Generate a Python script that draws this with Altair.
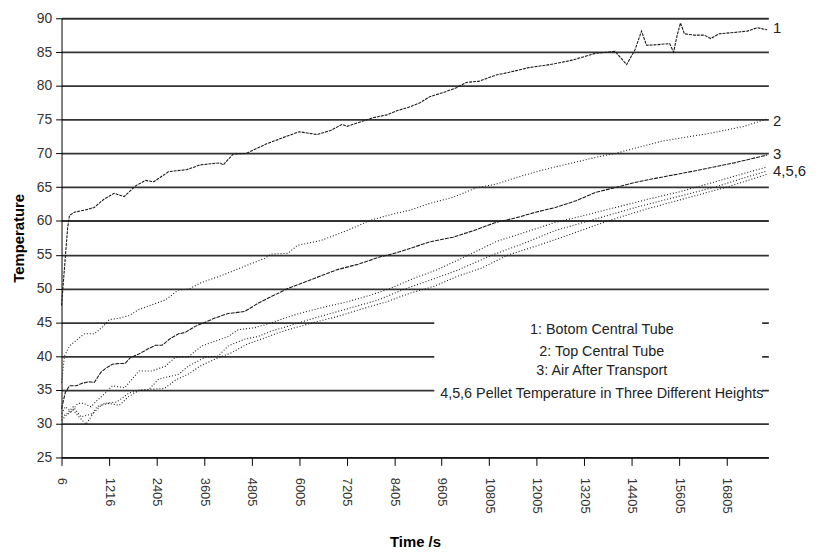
import altair as alt
import pandas as pd

# ---------------- data ----------------
t1 = [6, 40, 80, 120, 160, 206, 332, 582, 833, 1083, 1334, 1584, 1877, 2128, 2336, 2712, 3170, 3505,
      4006, 4089, 4340, 4673, 5174, 5675, 6010, 6344, 6469, 6802, 7095, 7221, 7471, 7888, 8222, 8474,
      8807, 9057, 9308, 9642, 9976, 10226, 10560, 10978, 11312, 11813, 12231, 12481, 12900, 13484,
      13985, 14277, 14486, 14653, 14779, 15070, 15363, 15463, 15554, 15637, 15737, 15988, 16238,
      16405, 16614, 16990, 17324, 17574, 17824]
T1 = [47.5, 50, 53, 56, 59, 60.8, 61.3, 61.6, 62.0, 63.25, 64.1, 63.6, 65.2, 66.0, 65.8, 67.3, 67.6, 68.3,
      68.6, 68.3, 69.9, 70.0, 71.4, 72.5, 73.2, 72.9, 72.8, 73.4, 74.3, 74.0, 74.5, 75.3, 75.7, 76.3,
      76.9, 77.5, 78.4, 79.0, 79.7, 80.5, 80.7, 81.6, 82.0, 82.7, 83.05, 83.3, 83.8, 84.8,
      85.1, 83.15, 85.3, 88.1, 86.0, 86.1, 86.25, 85.0, 87.5, 89.3, 87.7, 87.5, 87.5,
      87.0, 87.7, 87.9, 88.1, 88.6, 88.3]

t2 = [6, 80, 206, 457, 582, 833, 1040, 1208, 1459, 1709, 1960, 2293, 2627, 2962, 3212, 3546, 3964, 4297,
      4715, 5133, 5300, 5718, 5968, 6553, 7221, 7805, 8390, 8807, 9308, 9893, 10477, 10978, 11479,
      12063, 12481, 13484, 14000, 15153, 16405, 17240, 17824]
T2 = [36.1, 40.0, 41.5, 42.7, 43.3, 43.3, 44.3, 45.4, 45.6, 46.0, 46.9, 47.6, 48.3, 49.8, 49.9, 50.9, 51.75, 52.5,
      53.5, 54.45, 55.1, 55.2, 56.4, 57.1, 58.6, 60.1, 61.05, 61.6, 62.6, 63.5, 64.9, 65.45, 66.4,
      67.4, 68.0, 69.4, 70.0, 71.8, 73.0, 74.0, 75.1]

t3 = [6, 100, 206, 374, 540, 707, 833, 1000, 1125, 1291, 1459, 1609, 1752, 1960, 2168, 2378, 2544, 2754,
      2962, 3130, 3380, 3630, 3880, 4214, 4632, 4966, 5300, 5718, 6300, 6971, 7500, 8056, 8474, 9308,
      9893, 10477, 10978, 11479, 11980, 12481, 13000, 13484, 14486, 15000, 15988, 16990, 17824]
T3 = [32.2, 34.6, 35.6, 35.6, 36.0, 36.2, 36.1, 37.6, 38.2, 38.8, 38.9, 38.9, 39.8, 40.3, 41.0, 41.6, 41.6, 42.6,
      43.3, 43.5, 44.4, 45.0, 45.65, 46.3, 46.6, 47.8, 48.8, 50.0, 51.3, 52.8, 53.6, 54.7, 55.3, 56.9,
      57.6, 58.7, 59.8, 60.45, 61.3, 62.0, 63.0, 64.2, 65.7, 66.3, 67.4, 68.6, 69.75]

t4 = [6, 100, 250, 420, 560, 750, 916, 1125, 1290, 1600, 1960, 2290, 2627, 2878, 3212, 3546, 3880, 4214,
      4465, 4883, 5300, 5634, 6000, 6600, 7200, 7800, 8300, 8900, 9500, 10300, 11000, 11700, 12481,
      13200, 14000, 14800, 15600, 16400, 17100, 17824]
T4 = [31.5, 32.5, 31.8, 33.0, 33.0, 32.5, 33.5, 34.6, 35.6, 35.3, 37.8, 37.8, 38.5, 39.8, 39.9, 41.5, 42.2, 42.9,
      43.9, 44.2, 44.9, 45.6, 46.3, 47.2, 48.0, 49.0, 50.0, 51.5, 52.8, 55.0, 57.0, 58.3, 59.8,
      60.8, 62.0, 63.2, 64.3, 65.6, 66.8, 68.0]

t5 = [6, 150, 300, 500, 800, 1000, 1200, 1459, 1700, 1960, 2200, 2461, 2962, 3200, 3630, 3964, 4214, 4632,
      4966, 5300, 5718, 6200, 6800, 7400, 8000, 8700, 9300, 10000, 10900, 11600, 12481, 13500, 14500,
      15500, 16500, 17200, 17824]
T5 = [31.0, 31.5, 32.5, 31.0, 31.5, 32.7, 33.0, 32.7, 34.0, 34.9, 35.0, 36.6, 37.3, 38.5, 39.8, 40.0, 41.5, 42.5,
      42.9, 43.7, 44.4, 45.3, 46.3, 47.3, 48.3, 50.0, 51.2, 52.7, 55.0, 56.5, 58.6, 60.3, 62.0,
      63.5, 65.0, 66.3, 67.4]

t6 = [6, 120, 300, 450, 625, 750, 900, 1100, 1400, 1700, 2000, 2300, 2600, 2900, 3200, 3500, 3900, 4300,
      4700, 5100, 5500, 5900, 6400, 7000, 7600, 8200, 8800, 9400, 10000, 10600, 11300, 12000, 12700,
      13800, 14800, 15800, 16800, 17824]
T6 = [30.5, 31.2, 32.0, 31.0, 29.9, 31.0, 32.5, 33.0, 33.2, 34.5, 35.0, 35.1, 35.2, 36.5, 37.3, 38.5, 39.6, 40.5,
      41.8, 42.6, 43.5, 44.2, 45.0, 45.9, 47.0, 48.0, 49.3, 50.3, 51.8, 53.0, 55.0, 56.3, 57.7,
      60.0, 61.8, 63.4, 65.0, 66.9]

series_names = ["1", "2", "3", "4", "5", "6"]
series_t = [t1, t2, t3, t4, t5, t6]
series_T = [T1, T2, T3, T4, T5, T6]

x_tick_values = [6 + 1200 * k for k in range(15)]
x_tick_labels = ["6", "1216", "2405", "3605", "4805", "6005", "7205", "8405", "9605",
                 "10805", "12005", "13205", "14405", "15605", "16805"]
y_ticks = [25, 30, 35, 40, 45, 50, 55, 60, 65, 70, 75, 80, 85, 90]

end_labels = ["1", "2", "3", "4,5,6"]
end_label_t = [17824, 17824, 17824, 17824]
end_label_T = [88.6, 74.8, 69.9, 67.4]

legend_lines = ["1:  Botom Central Tube", "2:  Top Central Tube", "3:  Air After Transport",
                "4,5,6   Pellet Temperature in Three Different Heights"]
legend_t = [13650, 13650, 13650, 13650]
legend_T = [43.8, 40.55, 37.8, 34.4]
legend_box_t = [9420, 17700]
legend_box_T = [33.4, 46.6]

# ---------------- tables ----------------
rows = []
for name, ts, Ts in zip(series_names, series_t, series_T):
    for t, T in zip(ts, Ts):
        rows.append({"series": name, "t": t, "T": T})
df = pd.DataFrame(rows)
df_end = pd.DataFrame({"label": end_labels, "t": end_label_t, "T": end_label_T})
df_leg = pd.DataFrame({"label": legend_lines, "t": legend_t, "T": legend_T})
df_box = pd.DataFrame({"t": [legend_box_t[0]], "t2": [legend_box_t[1]],
                       "T": [legend_box_T[0]], "T2": [legend_box_T[1]]})

FONT = "Liberation Sans, Arial, sans-serif"

x_scale = alt.Scale(domain=[6, 17857], nice=False, zero=False)
y_scale = alt.Scale(domain=[25, 90], nice=False, zero=False)

label_js = "[" + ",".join("'" + s + "'" for s in x_tick_labels) + "]"

x_axis = alt.Axis(values=x_tick_values, labelExpr=label_js + "[round((datum.value-6)/1200)]",
                  labelAngle=90, labelFont=FONT, labelFontSize=13, labelColor="#333",
                  labelPadding=12, tickSize=8, tickColor="#000", domainColor="#000",
                  grid=False, title="Time /s", titleFont=FONT, titleFontSize=15,
                  titleFontWeight="bold", titleBaseline="top", titleY=78, labelFlush=False,
                  labelOverlap=False)
y_axis = alt.Axis(values=y_ticks, labelFont=FONT, labelFontSize=14, labelColor="#333",
                  labelPadding=4, tickSize=6, tickColor="#000", domainColor="#000",
                  grid=True, gridColor="#333333", gridWidth=1.8, title="Temperature",
                  titleFont=FONT, titleFontSize=15, titleFontWeight="bold", titlePadding=10)

X = alt.X("t:Q", scale=x_scale, axis=x_axis, title="Time /s")
Y = alt.Y("T:Q", scale=y_scale, axis=y_axis, title="Temperature")

lines = alt.Chart(df).mark_line(strokeWidth=1.1, color="#1a1a1a").encode(
    x=X, y=Y,
    strokeDash=alt.StrokeDash("series:N",
                              scale=alt.Scale(domain=series_names,
                                              range=[[3, 1], [1, 2], [4, 1], [1, 2], [1, 2], [1, 2]]),
                              legend=None),
    detail="series:N",
)

box = alt.Chart(df_box).mark_rect(color="white").encode(
    x=X, x2="t2:Q", y=Y, y2="T2:Q",
)

leg_text = alt.Chart(df_leg).mark_text(align="center", baseline="middle", font=FONT,
                                       fontSize=14.5, color="#222").encode(
    x=X, y=Y, text="label:N",
)

end_text = alt.Chart(df_end).mark_text(align="left", baseline="middle", dx=6, font=FONT,
                                       fontSize=15, color="#222").encode(
    x=X, y=Y, text="label:N",
)

chart = alt.layer(lines, box, leg_text, end_text).properties(
    width=713, height=443,
    autosize=alt.AutoSizeParams(type="none"),
    padding={"left": 54, "top": 8, "right": 44, "bottom": 90},
    background="white",
).configure_view(strokeWidth=0)

chart.save("out.html", embed_options={"renderer": "svg", "actions": False})
